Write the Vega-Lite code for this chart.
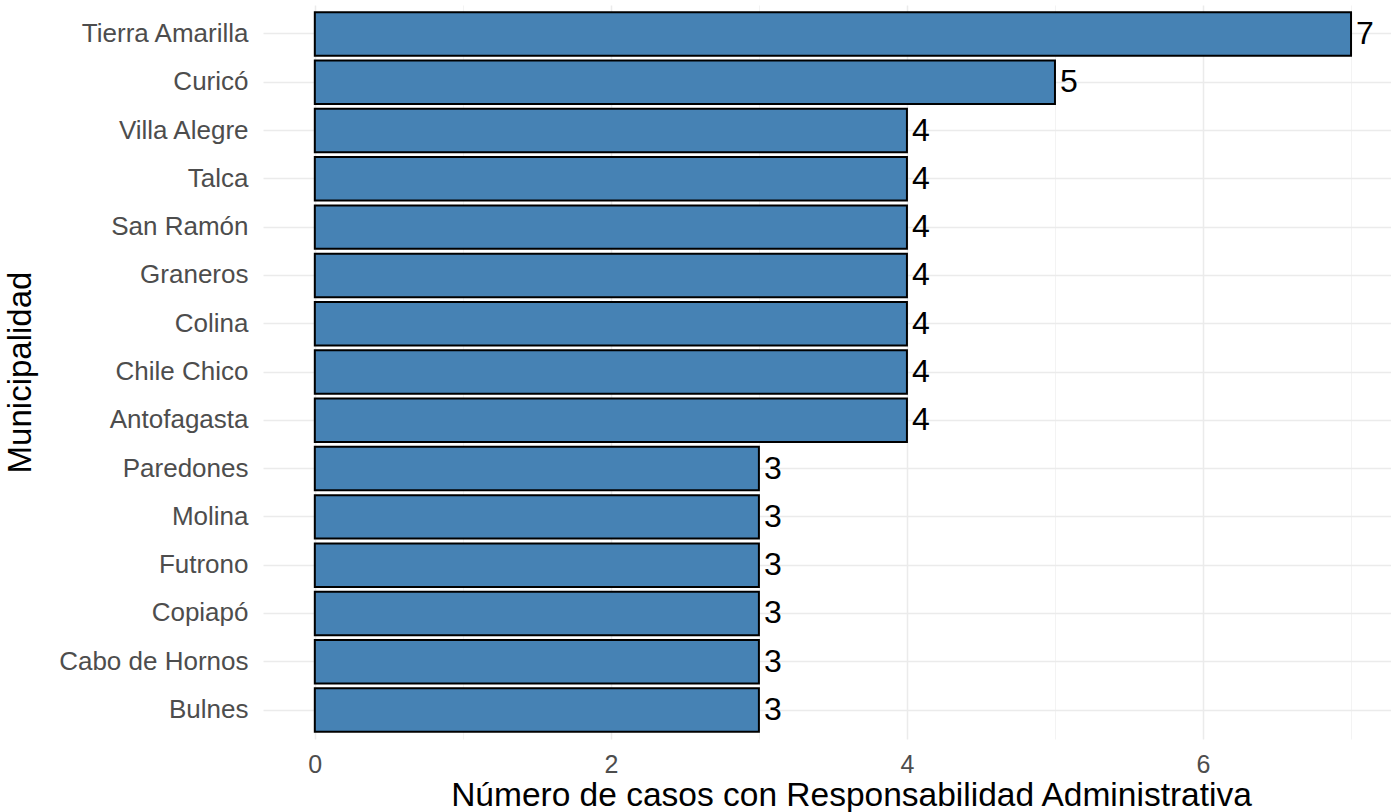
{
  "$schema": "https://vega.github.io/schema/vega-lite/v6.json",
  "width": 1128,
  "height": 734,
  "autosize": {"type": "none"},
  "padding": {"left": 263, "top": 5, "right": 0, "bottom": 73},
  "background": "white",
  "config": {
    "view": {"stroke": null},
    "font": "Liberation Sans"
  },
  "data": {
    "values": [
      {"municipalidad": "Tierra Amarilla", "casos": 7},
      {"municipalidad": "Curicó", "casos": 5},
      {"municipalidad": "Villa Alegre", "casos": 4},
      {"municipalidad": "Talca", "casos": 4},
      {"municipalidad": "San Ramón", "casos": 4},
      {"municipalidad": "Graneros", "casos": 4},
      {"municipalidad": "Colina", "casos": 4},
      {"municipalidad": "Chile Chico", "casos": 4},
      {"municipalidad": "Antofagasta", "casos": 4},
      {"municipalidad": "Paredones", "casos": 3},
      {"municipalidad": "Molina", "casos": 3},
      {"municipalidad": "Futrono", "casos": 3},
      {"municipalidad": "Copiapó", "casos": 3},
      {"municipalidad": "Cabo de Hornos", "casos": 3},
      {"municipalidad": "Bulnes", "casos": 3}
    ]
  },
  "encoding": {
    "y": {
      "field": "municipalidad",
      "type": "nominal",
      "sort": null,
      "scale": {"paddingInner": 0.1, "paddingOuter": 0.15},
      "axis": {
        "title": "Municipalidad",
        "titleFont": "Liberation Sans",
        "titleFontSize": 33,
        "titleFontWeight": "normal",
        "titleColor": "#000000",
        "titlePadding": 26,
        "labelFont": "Liberation Sans",
        "labelFontSize": 26,
        "labelColor": "#4D4D4D",
        "labelPadding": 15,
        "labelLimit": 0,
        "domain": false,
        "ticks": false,
        "grid": true,
        "gridColor": "#EBEBEB",
        "gridWidth": 1.5,
        "bandPosition": 0.5
      }
    },
    "x": {
      "field": "casos",
      "type": "quantitative",
      "scale": {"domain": [-0.35, 7.27], "nice": false, "zero": false},
      "axis": {
        "title": "Número de casos con Responsabilidad Administrativa",
        "titleFont": "Liberation Sans",
        "titleFontSize": 33.5,
        "titleFontWeight": "normal",
        "titleColor": "#000000",
        "titleBaseline": "alphabetic",
        "titleAlign": "center",
        "titleX": 588,
        "titleY": 66,
        "values": [0, 1, 2, 3, 4, 5, 6, 7],
        "labelExpr": "datum.value % 2 === 0 ? datum.label : ''",
        "labelFont": "Liberation Sans",
        "labelFontSize": 25,
        "labelColor": "#4D4D4D",
        "labelPadding": 13,
        "domain": false,
        "ticks": false,
        "grid": true,
        "gridColor": {"condition": {"test": "datum.value % 2 === 0", "value": "#EBEBEB"}, "value": "#F0F0F0"},
        "gridWidth": {"condition": {"test": "datum.value % 2 === 0", "value": 1.5}, "value": 0.8}
      }
    }
  },
  "layer": [
    {
      "mark": {"type": "bar", "fill": "#4682B4", "stroke": "#000000", "strokeWidth": 2},
      "encoding": {"x2": {"datum": 0}}
    },
    {
      "mark": {"type": "text", "align": "left", "baseline": "middle", "dx": 5, "fontSize": 32, "font": "Liberation Sans", "color": "#000000"},
      "encoding": {"text": {"field": "casos", "type": "quantitative"}}
    }
  ]
}
